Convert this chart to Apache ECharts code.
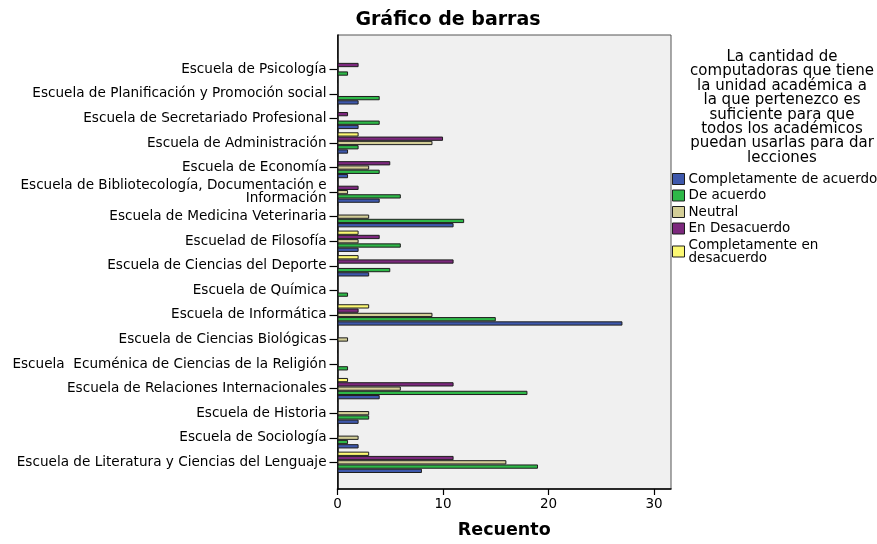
<!DOCTYPE html>
<html>
<head>
<meta charset="utf-8">
<script src="https://cdn.jsdelivr.net/npm/echarts@6/dist/echarts.min.js"></script>
<style>
html,body{margin:0;padding:0;background:#fff;}
#chart{width:877px;height:544px;}
</style>
</head>
<body>
<div id="chart"></div>
<script>
// Categories, top to bottom as in the reference
const categories = [
  "Escuela de Psicología",
  "Escuela de Planificación y Promoción social",
  "Escuela de Secretariado Profesional",
  "Escuela de Administración",
  "Escuela de Economía",
  "Escuela de Bibliotecología, Documentación e\nInformación",
  "Escuela de Medicina Veterinaria",
  "Escuelad de Filosofía",
  "Escuela de Ciencias del Deporte",
  "Escuela de Química",
  "Escuela de Informática",
  "Escuela de Ciencias Biológicas",
  "Escuela  Ecuménica de Ciencias de la Religión",
  "Escuela de Relaciones Internacionales",
  "Escuela de Historia",
  "Escuela de Sociología",
  "Escuela de Literatura y Ciencias del Lenguaje"
];
const completamenteDeAcuerdo = [0,2,2,1,1,4,11,2,3,0,27,0,0,4,2,2,8];
const deAcuerdo              = [1,4,4,2,4,6,12,6,5,1,15,0,1,18,3,1,19];
const neutral                = [0,0,0,9,3,1,3,2,0,0,9,1,0,6,3,2,16];
const enDesacuerdo           = [2,0,1,10,5,2,0,4,11,0,2,0,0,11,0,0,11];
const completamenteEnDesacuerdo = [0,0,0,2,0,0,0,2,2,0,3,0,0,1,0,0,3];
const seriesNames = ["Completamente de acuerdo","De acuerdo","Neutral","En Desacuerdo","Completamente en\ndesacuerdo"];
const xTicks = [0,10,20,30];
const chartTitle = "Gráfico de barras";
const legendTitle = "La cantidad de\ncomputadoras que tiene\nla unidad académica a\nla que pertenezco es\nsuficiente para que\ntodos los académicos\npuedan usarlas para dar\nlecciones";
const xName = "Recuento";

const colors = ["#3E58AC","#2EB848","#D3CE97","#7C287D","#FBF873"];
const values = [completamenteDeAcuerdo, deAcuerdo, neutral, enDesacuerdo, completamenteEnDesacuerdo];

const FONT = "DejaVu Sans";
const XMAX = 31.6;

const chart = echarts.init(document.getElementById('chart'), null, {renderer:'canvas'});

// Reverse so that the first category is drawn at the top (axis runs bottom-up)
const catsAxis = categories.slice().reverse();

// Draw order reversed so that the first series sits at the bottom of each group
const order = [4,3,2,1,0];
const series = order.map(i => ({
  name: seriesNames[i],
  type: 'bar',
  xAxisIndex: 1,
  yAxisIndex: 1,
  data: values[i].slice().reverse(),
  barGap: '0%',
  barCategoryGap: '13%',
  itemStyle: {color: colors[i], borderColor: '#1e1e1e', borderWidth: 1},
  emphasis: {disabled: true},
  animation: false
}));

const option = {
  backgroundColor: '#ffffff',
  animation: false,
  title: [
    {text: chartTitle, left: 443, top: 6, textAlign: 'center',
     textStyle: {fontFamily: FONT, fontSize: 19, fontWeight: 'bold', color: '#000'}},
    {text: legendTitle, left: 777, top: 45, textAlign: 'center',
     textStyle: {fontFamily: FONT, fontSize: 15, fontWeight: 'normal', color: '#000', lineHeight: 14.4}}
  ],
  legend: {
    orient: 'vertical',
    left: 672, top: 172,
    padding: 0,
    itemGap: 2.5,
    itemWidth: 12, itemHeight: 11,
    icon: 'rect',
    data: seriesNames,
    itemStyle: {borderColor: '#1e1e1e', borderWidth: 1},
    textStyle: {fontFamily: FONT, fontSize: 13.5, color: '#000', lineHeight: 13, padding: [0,0,0,-1]},
    selectedMode: false
  },
  grid: [
    {left: 337.5, top: 35, width: 333.5, height: 462, show: true,
     backgroundColor: '#F0F0F0', borderColor: '#555', borderWidth: 1, containLabel: false},
    {left: 337.5, top: 57, width: 333.5, height: 417.6, containLabel: false}
  ],
  xAxis: [
    {gridIndex: 0, type: 'value', min: 0, max: XMAX,
     axisLine: {show: true, lineStyle: {color: '#000', width: 1.5}},
     axisTick: {show: true, length: 6, customValues: xTicks, lineStyle: {color: '#000', width: 1.2}},
     axisLabel: {fontFamily: FONT, fontSize: 13.5, color: '#000', margin: 8, customValues: xTicks},
     splitLine: {show: false},
     name: xName, nameLocation: 'middle', nameGap: 32,
     nameTextStyle: {fontFamily: FONT, fontSize: 17.5, fontWeight: 'bold', color: '#000'}},
    {gridIndex: 1, type: 'value', min: 0, max: XMAX, show: false, splitLine: {show: false}}
  ],
  yAxis: [
    {gridIndex: 0, type: 'value', min: 0, max: 1,
     axisLine: {show: true, lineStyle: {color: '#000', width: 1.5}},
     axisTick: {show: false}, axisLabel: {show: false}, splitLine: {show: false}},
    {gridIndex: 1, type: 'category', data: catsAxis,
     axisLine: {show: false},
     axisTick: {show: true, alignWithLabel: true, length: 8, lineStyle: {color: '#000', width: 1.2}},
     axisLabel: {fontFamily: FONT, fontSize: 13.6, color: '#000', margin: 11, lineHeight: 13, interval: 0, align: 'right'},
     splitLine: {show: false}}
  ],
  series: series
};
chart.setOption(option);
</script>
</body>
</html>
